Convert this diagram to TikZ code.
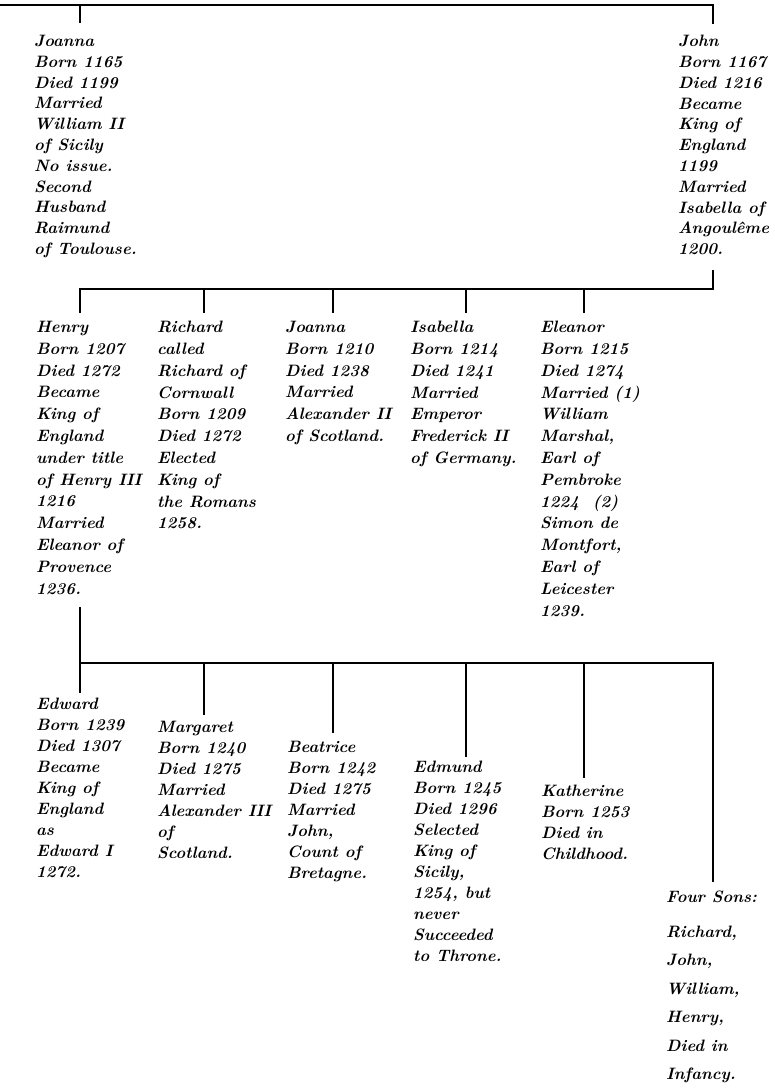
\documentclass[tikz,border=0pt]{standalone}
\begin{document}
\begin{tikzpicture}[x=1pt,y=-1pt,
  person/.style={anchor=north west, align=left, inner sep=0pt, text=black},
  f1/.style={font=\bfseries\itshape\fontsize{16.5}{20.8}\selectfont},
  f2/.style={font=\bfseries\itshape\fontsize{16.5}{21.8}\selectfont},
  f3/.style={font=\bfseries\itshape\fontsize{16.5}{21}\selectfont},
  f4/.style={font=\bfseries\itshape\fontsize{16.5}{28.5}\selectfont},
  bar/.style={line width=2.8pt, line join=miter, line cap=butt, draw=black}]
\useasboundingbox (0,0) rectangle (775,1088);

% generation 1
\node[person,f1] (joanna) at (34,35) {Joanna\\Born 1165\\Died 1199\\Married\\William II\\of Sicily\\No issue.\\Second\\Husband\\Raimund\\of Toulouse.};
\node[person,f1] (john) at (678,35) {John\\Born 1167\\Died 1216\\Became\\King of\\England\\1199\\Married\\Isabella of\\Angoul\^eme\\1200.};

% generation 2
\node[person,f2] (henry) at (36,321) {Henry\\Born 1207\\Died 1272\\Became\\King of\\England\\under title\\of Henry III\\1216\\Married\\Eleanor of\\Provence\\1236.};
\node[person,f2] (richard) at (157,321) {Richard\\called\\Richard of\\Cornwall\\Born 1209\\Died 1272\\Elected\\King of\\the Romans\\1258.};
\node[person,f2] (joanna2) at (285,321) {Joanna\\Born 1210\\Died 1238\\Married\\Alexander II\\of Scotland.};
\node[person,f2] (isabella) at (410,321) {Isabella\\Born 1214\\Died 1241\\Married\\Emperor\\Frederick II\\of Germany.};
\node[person,f2] (eleanor) at (540,321) {Eleanor\\Born 1215\\Died 1274\\Married (1)\\William\\Marshal,\\Earl of\\Pembroke\\1224 \ (2)\\Simon de\\Montfort,\\Earl of\\Leicester\\1239.};

% generation 3
\node[person,f3] (edward) at (36,698) {Edward\\Born 1239\\Died 1307\\Became\\King of\\England\\as\\Edward I\\1272.};
\node[person,f3] (margaret) at (157,721) {Margaret\\Born 1240\\Died 1275\\Married\\Alexander III\\of\\Scotland.};
\node[person,f3] (beatrice) at (287,741) {Beatrice\\Born 1242\\Died 1275\\Married\\John,\\Count of\\Bretagne.};
\node[person,f3] (edmund) at (413,761) {Edmund\\Born 1245\\Died 1296\\Selected\\King of\\Sicily,\\1254, but\\never\\Succeeded\\to Throne.};
\node[person,f3] (katherine) at (541,785) {Katherine\\Born 1253\\Died in\\Childhood.};
\node[person,f4] (foursons) at (666,891) {Four Sons:\\[6pt]Richard,\\John,\\William,\\Henry,\\Died in\\Infancy.};

% connector coordinates
\coordinate (t0) at (0,5);
\coordinate (tJo) at (80,5);   \coordinate (dJo) at (80,23);
\coordinate (tJn) at (713,5);  \coordinate (dJn) at (713,24);
\coordinate (uJn) at (713,270);
\coordinate (b2l) at (80,289); \coordinate (b2r) at (713,289);
\coordinate (b2a) at (204,289); \coordinate (b2b) at (333,289);
\coordinate (b2c) at (466,289); \coordinate (b2d) at (584,289);
\coordinate (dHe) at (80,313); \coordinate (dRi) at (204,313);
\coordinate (dJa) at (333,313); \coordinate (dIs) at (466,313);
\coordinate (dEl) at (584,313);
\coordinate (uHe) at (80,607);
\coordinate (b3l) at (80,663); \coordinate (b3r) at (713,663);
\coordinate (b3a) at (204,663); \coordinate (b3b) at (333,663);
\coordinate (b3c) at (466,663); \coordinate (b3d) at (584,663);
\coordinate (dEd) at (80,693); \coordinate (dMa) at (204,715);
\coordinate (dBe) at (333,733); \coordinate (dEm) at (466,757);
\coordinate (dKa) at (584,778); \coordinate (dFo) at (713,882);

% generation 1 bar
\draw[bar] (t0) -- (tJn) -- (dJn);
\draw[bar] (tJo) -- (dJo);
% generation 2 bar
\draw[bar] (uJn) -- (b2r) -- (b2l) -- (dHe);
\draw[bar] (b2a) -- (dRi);
\draw[bar] (b2b) -- (dJa);
\draw[bar] (b2c) -- (dIs);
\draw[bar] (b2d) -- (dEl);
% generation 3 bar
\draw[bar] (uHe) -- (b3l) -- (dEd);
\draw[bar] (b3l) -- (b3r) -- (dFo);
\draw[bar] (b3a) -- (dMa);
\draw[bar] (b3b) -- (dBe);
\draw[bar] (b3c) -- (dEm);
\draw[bar] (b3d) -- (dKa);
\end{tikzpicture}
\end{document}
